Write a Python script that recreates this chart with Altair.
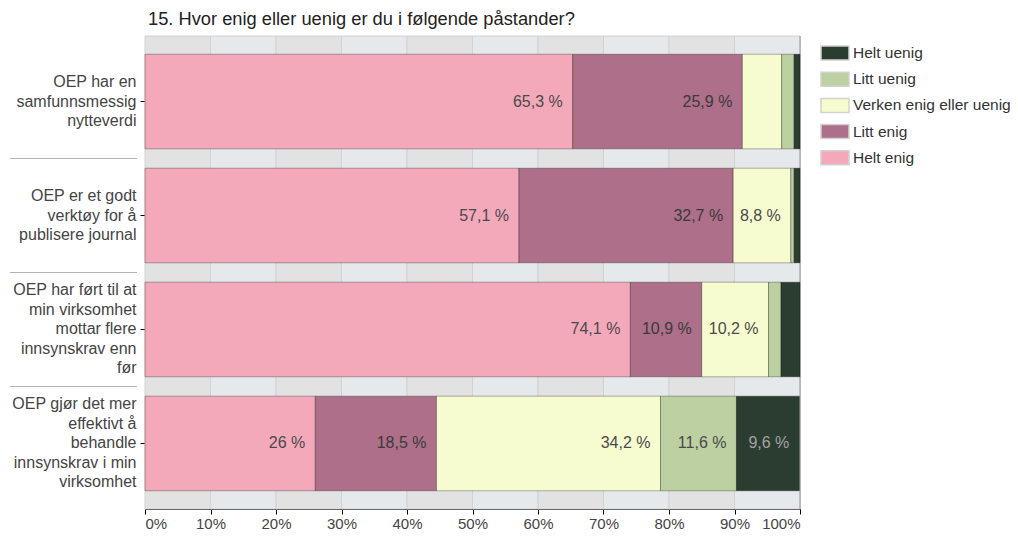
import altair as alt
import pandas as pd

categories = [
    "OEP har en|samfunnsmessig|nytteverdi",
    "OEP er et godt|verktøy for å|publisere journal",
    "OEP har ført til at|min virksomhet|mottar flere|innsynskrav enn|før",
    "OEP gjør det mer|effektivt å|behandle|innsynskrav i min|virksomhet",
]
series = ["Helt enig", "Litt enig", "Verken enig eller uenig", "Litt uenig", "Helt uenig"]
helt_enig = [65.3, 57.1, 74.1, 26.0]
litt_enig = [25.9, 32.7, 10.9, 18.5]
verken = [6.0, 8.8, 10.2, 34.2]
litt_uenig = [1.9, 0.5, 1.9, 11.6]
helt_uenig = [0.9, 0.9, 2.9, 9.6]
colors = ["#f4a9bb", "#ad6f89", "#f7fcd0", "#bcd0a2", "#2b3d30"]
label_colors = ["#4a4a4a", "#3a3a3a", "#4a4a4a", "#4a4a4a", "#a3a3a3"]
grid_starts = [0, 10, 20, 30, 40, 50, 60, 70, 80, 90]
grid_fill = ["#e2e2e2", "#e6e9ec"]

values = [helt_enig, litt_enig, verken, litt_uenig, helt_uenig]
rows = []
for si, s in enumerate(series):
    for ci, c in enumerate(categories):
        v = values[si][ci]
        rows.append({
            "cat": c, "series": s, "ord": si, "value": v,
            "label": (f"{v:g}".replace(".", ",") + " %") if v >= 8 else "",
            "lcol": label_colors[si],
        })
df = pd.DataFrame(rows)

bands = pd.DataFrame({
    "start": grid_starts,
    "end": [g + 10 for g in grid_starts],
    "fill": [grid_fill[i % 2] for i in range(len(grid_starts))],
})
seps = pd.DataFrame({"cat": categories[:3]})

W, H = 655, 473
P_IN, P_OUT = 0.17, 0.16
STEP = H / (4 - P_IN + 2 * P_OUT)
SEP_OFF = STEP * (1 - P_IN / 2)
LH = 19.5
FONT = "Liberation Sans"

yenc = alt.Y("cat:N", sort=categories,
             scale=alt.Scale(paddingInner=P_IN, paddingOuter=P_OUT),
             axis=alt.Axis(title=None, labelExpr="split(datum.label, '|')",
                           labelFontSize=16, labelColor="#444", labelFont=FONT,
                           labelLineHeight=LH, labelPadding=4, tickSize=5,
                           labelOffset={"condition": {"test": "length(split(datum.label, '|')) == 5",
                                                      "value": -2 * LH},
                                        "value": -LH},
                           tickColor="#000", domainColor="#000", labelLimit=300))
xscale = alt.Scale(domain=[0, 100], nice=False)

bg = alt.Chart(bands).mark_rect(stroke="#d2d2d2", strokeWidth=1).encode(
    x=alt.X("start:Q", scale=xscale,
            axis=alt.Axis(title=None, values=list(range(0, 101, 10)),
                          labelExpr="datum.value + '%'", grid=False,
                          labelFontSize=15, labelColor="#444", labelFont=FONT,
                          tickColor="#000", domainColor="#000", tickSize=5,
                          labelPadding=2)),
    x2="end:Q",
    y=alt.value(0), y2=alt.value(H),
    color=alt.Color("fill:N", scale=None),
)

right_edge = alt.Chart(pd.DataFrame({"v": [100]})).mark_rule(color="#9a9a9a", strokeWidth=1).encode(
    x=alt.X("v:Q", scale=xscale), y=alt.value(0), y2=alt.value(H))

base = alt.Chart(df).transform_stack(
    stack="value", groupby=["cat"], as_=["x0", "x1"], sort=[alt.SortField("ord", order="ascending")]
)

bars = base.mark_bar(stroke="#000", strokeOpacity=0.3, strokeWidth=1).encode(
    x=alt.X("x0:Q", scale=xscale),
    x2="x1:Q",
    y=yenc,
    color=alt.Color("series:N",
                    scale=alt.Scale(domain=series[::-1], range=colors[::-1]),
                    legend=alt.Legend(title=None, orient="none", legendX=675, legendY=2,
                                      symbolType="M-1,-0.5H1V0.5H-1Z", symbolSize=784,
                                      symbolStrokeColor="#2a2a2a", symbolStrokeWidth=1.5,
                                      labelFontSize=15.5, labelColor="#333", labelFont=FONT,
                                      rowPadding=1.2, symbolOffset=0, labelOffset=3,
                                      padding=0, labelLimit=300)),
)

texts = base.mark_text(align="right", dx=-10, fontSize=16, font=FONT).encode(
    x=alt.X("x1:Q", scale=xscale),
    y=alt.Y("cat:N", sort=categories),
    text="label:N",
    color=alt.Color("lcol:N", scale=None),
)

sep = alt.Chart(seps).mark_rule(color="#b4b4b4", strokeWidth=1).encode(
    y=alt.Y("cat:N", sort=categories),
    yOffset=alt.value(SEP_OFF),
    x=alt.value(-135), x2=alt.value(-8),
)

chart = alt.layer(bg, right_edge, bars, texts, sep).properties(
    width=W, height=H,
    title=alt.TitleParams("15. Hvor enig eller uenig er du i følgende påstander?",
                          anchor="start", frame="group", fontSize=18.3, fontWeight="normal",
                          font=FONT, color="#222", offset=6, dx=3),
    autosize=alt.AutoSizeParams(type="none"),
    padding={"left": 137, "top": 28, "right": 210, "bottom": 23},
).configure_view(stroke=None).configure(background="white")

chart.save("out.html", embed_options={"renderer": "svg", "actions": False})
